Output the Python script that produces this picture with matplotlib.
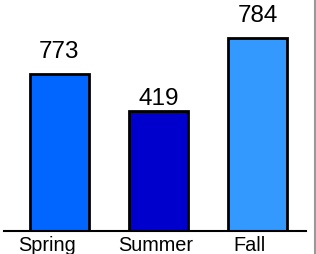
import matplotlib
matplotlib.use("Agg")
import matplotlib.pyplot as plt
from matplotlib.lines import Line2D
from matplotlib.transforms import ScaledTranslation

plt.rcParams['font.family'] = ['Liberation Sans', 'DejaVu Sans']

# datos
seasons = ["Spring", "Summer", "Fall"]
labels = [773, 419, 784]
heights = [157, 120, 193]   # altura de barra
colors = ["#0066FF", "#0000CC", "#3399FF"]

fig = plt.figure(figsize=(3.16, 2.54), dpi=100)
ax = fig.add_axes([4 / 316, 23 / 254, 302 / 316, 231 / 254])

x = range(len(seasons))
bars = ax.bar(x, heights, width=0.595, color=colors, edgecolor="black", linewidth=2)

# etiquetas encima de cada barra
gaps = [11, 1, 11]
for b, lab, g in zip(bars, labels, gaps):
    ax.annotate(str(lab), (b.get_x() + b.get_width() / 2, b.get_height()),
                xytext=(0, g), textcoords="offset pixels",
                ha="center", va="bottom", fontsize=17.5)

ax.set_xlim(-0.559, 2.484)
ax.set_ylim(0, 231)
ax.set_xticks(list(x))
ax.set_xticklabels(seasons, fontsize=14.3)
ax.tick_params(axis="x", length=0, pad=3.5)
# los textos del eje no quedan centrados bajo las barras
shifts = [-12, -3, -8.5]
for t, dx in zip(ax.get_xticklabels(), shifts):
    t.set_transform(t.get_transform() + ScaledTranslation(dx / 100, 0, fig.dpi_scale_trans))
ax.set_yticks([])
for s in ["top", "right", "left"]:
    ax.spines[s].set_visible(False)
ax.spines["bottom"].set_linewidth(1.5)

# borde gris a la derecha
fig.add_artist(Line2D([315 / 316, 315 / 316], [0, 1], color="#999999", linewidth=1.5))

fig.savefig("out.png", dpi=100)
